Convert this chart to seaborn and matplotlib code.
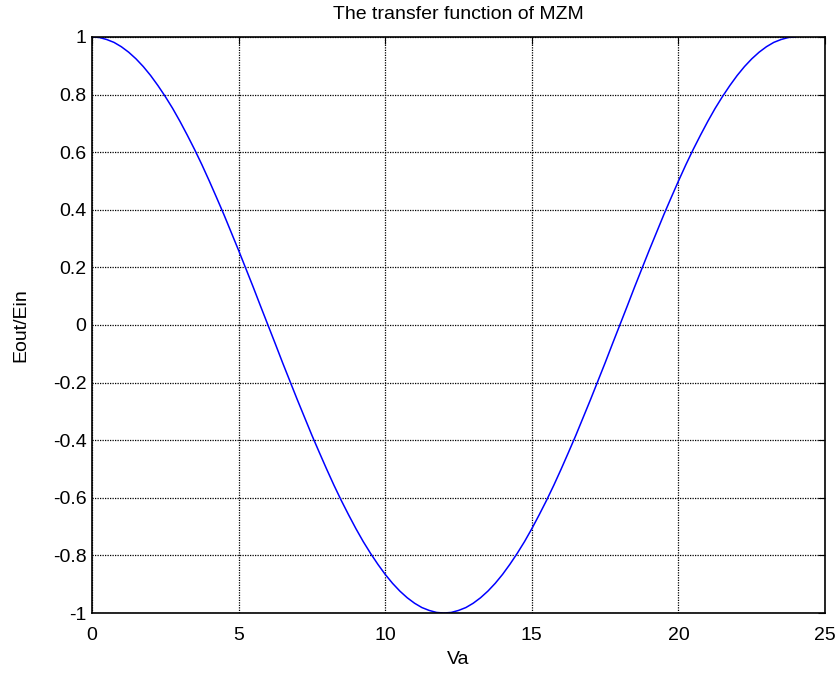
import matplotlib
matplotlib.use("Agg")
import matplotlib.pyplot as plt
import seaborn as sns
import pandas as pd

sns.set_style("white")
plt.rcParams['font.family'] = ['Liberation Sans', 'DejaVu Sans']
plt.rcParams['text.color'] = 'black'
plt.rcParams['axes.labelcolor'] = 'black'

# values, step 0.25 V
va = [i * 0.25 for i in range(97)]
eout_ein = [1.000, 0.998, 0.991, 0.981, 0.966, 0.947, 0.924, 0.897, 0.866, 0.831,
            0.793, 0.752, 0.707, 0.659, 0.609, 0.556, 0.500, 0.442, 0.383, 0.321,
            0.259, 0.195, 0.131, 0.065, 0.000, -0.065, -0.131, -0.195, -0.259, -0.321,
            -0.383, -0.442, -0.500, -0.556, -0.609, -0.659, -0.707, -0.752, -0.793, -0.831,
            -0.866, -0.897, -0.924, -0.947, -0.966, -0.981, -0.991, -0.998, -1.000,
            -0.998, -0.991, -0.981, -0.966, -0.947, -0.924, -0.897, -0.866, -0.831,
            -0.793, -0.752, -0.707, -0.659, -0.609, -0.556, -0.500, -0.442, -0.383, -0.321,
            -0.259, -0.195, -0.131, -0.065, 0.000, 0.065, 0.131, 0.195, 0.259, 0.321,
            0.383, 0.442, 0.500, 0.556, 0.609, 0.659, 0.707, 0.752, 0.793, 0.831,
            0.866, 0.897, 0.924, 0.947, 0.966, 0.981, 0.991, 0.998, 1.000]
x_ticks = [0, 5, 10, 15, 20, 25]
y_ticks = [-1, -0.8, -0.6, -0.4, -0.2, 0, 0.2, 0.4, 0.6, 0.8, 1]
y_labels = ['-1', '-0.8', '-0.6', '-0.4', '-0.2', '0', '0.2', '0.4', '0.6', '0.8', '1']

df = pd.DataFrame({'Va': va, 'Eout/Ein': eout_ein})

fig = plt.figure(figsize=(8.36, 6.77), dpi=100)
ax = fig.add_axes([0.110, 0.0945, 0.877, 0.851])
sns.lineplot(data=df, x='Va', y='Eout/Ein', color='#0000ff', linewidth=1.1, ax=ax)

ax.set_xlim(0, 25)
ax.set_ylim(-1, 1)
ax.set_xticks(x_ticks)
ax.set_xticklabels([str(t) for t in x_ticks])
ax.set_yticks(y_ticks)
ax.set_yticklabels(y_labels)
ax.grid(True, color='black', linestyle=(0, (1, 1)), linewidth=0.9)
ax.tick_params(direction='in', length=5, width=0.8, top=True, right=True,
               labelsize=14, pad=4, colors='black')
ax.tick_params(axis='x', pad=10)
for s in ax.spines.values():
    s.set_color('black')
    s.set_linewidth(1.2)

ax.set_title('The transfer function of MZM', fontsize=14, pad=13, color='black')
ax.set_xlabel('Va', fontsize=14, labelpad=5)
ax.set_ylabel('Eout/Ein', fontsize=14, labelpad=17)

fig.savefig('out.png', dpi=100, facecolor='white')
